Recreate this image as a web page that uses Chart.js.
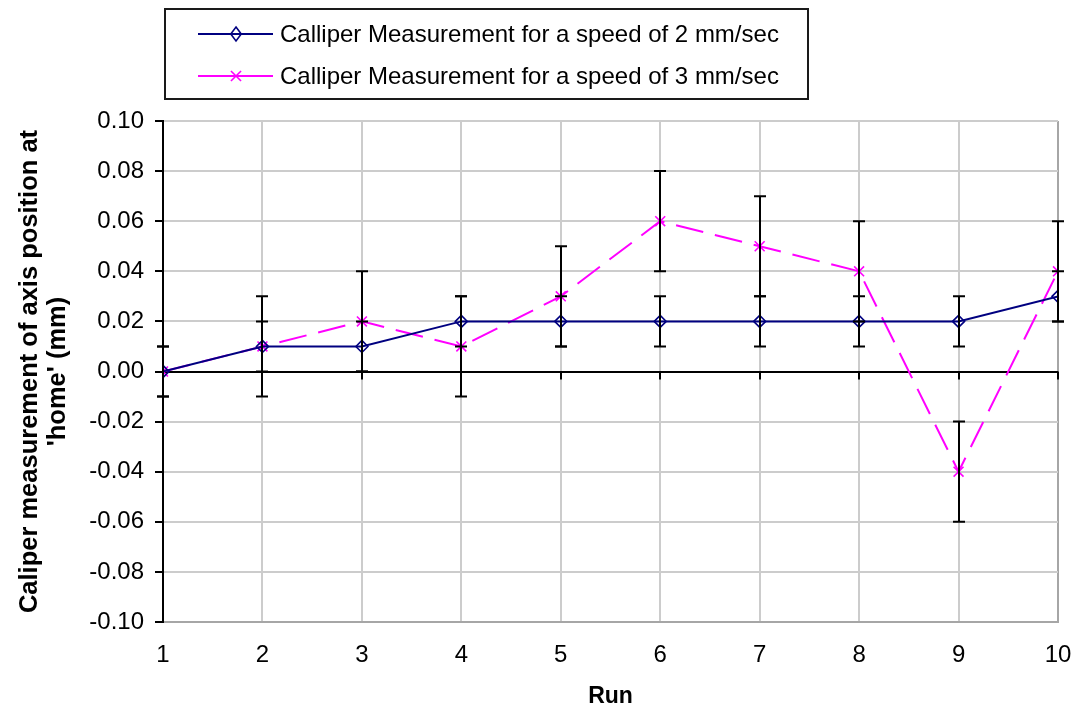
<!DOCTYPE html>
<html>
<head>
<meta charset="utf-8">
<script src="https://cdn.jsdelivr.net/npm/chart.js@4.4.1/dist/chart.umd.min.js"></script>
<style>
html,body{margin:0;padding:0;background:#ffffff;}
#wrap{width:1077px;height:713px;position:relative;}
</style>
</head>
<body>
<div id="wrap"><canvas id="c" width="1077" height="713"></canvas></div>
<script>
// ---- data ----
const runs = [1, 2, 3, 4, 5, 6, 7, 8, 9, 10];
const speed2 = [0.00, 0.01, 0.01, 0.02, 0.02, 0.02, 0.02, 0.02, 0.02, 0.03];
const speed3 = [0.00, 0.01, 0.02, 0.01, 0.03, 0.06, 0.05, 0.04, -0.04, 0.04];
const err2 = [0.01, 0.01, 0.01, 0.01, 0.01, 0.01, 0.01, 0.01, 0.01, 0.01];
const err3 = [0.01, 0.02, 0.02, 0.02, 0.02, 0.02, 0.02, 0.02, 0.02, 0.02];
const seriesLabels = ["Calliper Measurement for a speed of 2 mm/sec", "Calliper Measurement for a speed of 3 mm/sec"];
const yTitle = ["Caliper measurement of axis position at", "'home' (mm)"];
const xTitle = "Run";
const yMin = -0.10, yMax = 0.10, yStep = 0.02;

const FONT = "Arial, 'Liberation Sans', sans-serif";

// error bars drawn through the scales
const errorBars = {
  id: 'errorBars',
  afterDatasetsDraw(chart) {
    const ctx = chart.ctx, xs = chart.scales.x, ys = chart.scales.y;
    ctx.save();
    ctx.strokeStyle = '#000';
    ctx.lineWidth = 2;
    chart.data.datasets.forEach(ds => {
      const errs = ds.errors || [];
      ds.data.forEach((p, i) => {
        const e = errs[i];
        if (!e) return;
        const x = Math.round(xs.getPixelForValue(p.x));
        const yt = ys.getPixelForValue(p.y + e);
        const yb = ys.getPixelForValue(p.y - e);
        ctx.beginPath();
        ctx.moveTo(x, yt); ctx.lineTo(x, yb);
        ctx.moveTo(x - 6, yt); ctx.lineTo(x + 6, yt);
        ctx.moveTo(x - 6, yb); ctx.lineTo(x + 6, yb);
        ctx.stroke();
      });
    });
    ctx.restore();
  }
};

// small tick marks below the zero line (category axis crossing at 0)
const zeroTicks = {
  id: 'zeroTicks',
  beforeDatasetsDraw(chart) {
    const ctx = chart.ctx, xs = chart.scales.x, ys = chart.scales.y;
    const y0 = ys.getPixelForValue(0);
    ctx.save();
    ctx.strokeStyle = '#000';
    ctx.lineWidth = 2;
    ctx.beginPath();
    runs.forEach(r => {
      const x = Math.round(xs.getPixelForValue(r));
      ctx.moveTo(x, y0); ctx.lineTo(x, y0 + 8);
    });
    ctx.stroke();
    ctx.restore();
  }
};

function drawMarker(ctx, style, x, y, r, color) {
  ctx.save();
  ctx.strokeStyle = color; ctx.lineWidth = 1.6;
  ctx.beginPath();
  if (style === 'rectRot') {
    ctx.moveTo(x, y - r); ctx.lineTo(x + r * 0.75, y); ctx.lineTo(x, y + r); ctx.lineTo(x - r * 0.75, y); ctx.closePath();
  } else {
    const d = r * 0.72;
    ctx.moveTo(x - d, y - d); ctx.lineTo(x + d, y + d);
    ctx.moveTo(x + d, y - d); ctx.lineTo(x - d, y + d);
  }
  ctx.stroke();
  ctx.restore();
}

// boxed legend
const boxLegend = {
  id: 'boxLegend',
  afterDraw(chart) {
    const ctx = chart.ctx;
    ctx.save();
    ctx.strokeStyle = '#1a1a1a';
    ctx.lineWidth = 2;
    ctx.strokeRect(165, 9, 643, 90);
    const rows = [34, 76];
    chart.data.datasets.forEach((ds, i) => {
      const y = rows[i];
      ctx.strokeStyle = ds.borderColor;
      ctx.lineWidth = 2;
      ctx.beginPath(); ctx.moveTo(198, y); ctx.lineTo(273, y); ctx.stroke();
      drawMarker(ctx, ds.pointStyle, 236, y, 7, ds.borderColor);
      ctx.fillStyle = '#000';
      ctx.font = '24px ' + FONT;
      ctx.textBaseline = 'middle';
      ctx.textAlign = 'left';
      ctx.fillText(ds.label, 280, y + 1);
    });
    ctx.restore();
  }
};

const gridGray = '#cccccc';

new Chart(document.getElementById('c'), {
  type: 'line',
  data: {
    datasets: [
      {
        label: seriesLabels[0],
        data: runs.map((r, i) => ({x: r, y: speed2[i]})),
        errors: err2,
        borderColor: '#000080',
        backgroundColor: 'rgba(0,0,0,0)',
        borderWidth: 2,
        pointStyle: 'rectRot',
        pointRadius: 6,
        pointBorderWidth: 1.6,
        pointBorderColor: '#000080',
        pointBackgroundColor: 'rgba(0,0,0,0)',
        tension: 0
      },
      {
        label: seriesLabels[1],
        data: runs.map((r, i) => ({x: r, y: speed3[i]})),
        errors: err3,
        borderColor: '#ff00ff',
        backgroundColor: 'rgba(0,0,0,0)',
        borderWidth: 2,
        borderDash: [28, 12],
        pointStyle: 'crossRot',
        pointRadius: 7,
        pointBorderWidth: 1.6,
        pointBorderColor: '#ff00ff',
        tension: 0
      }
    ]
  },
  options: {
    responsive: false,
    animation: false,
    events: [],
    layout: {padding: {top: 121, right: 19, bottom: 0, left: 0}},
    plugins: {legend: {display: false}, tooltip: {enabled: false}},
    scales: {
      x: {
        type: 'linear',
        min: 1, max: 10,
        afterFit(s) { s.height = 91; s.paddingLeft = 0; s.paddingRight = 0; },
        ticks: {stepSize: 1, color: '#000', padding: 19, font: {family: FONT, size: 24}},
        grid: {
          drawTicks: false,
          lineWidth: 2,
          color: ctx => (ctx.tick && ctx.tick.value === 10) ? '#a6a6a6' : gridGray
        },
        border: {display: true, color: '#a6a6a6', width: 2},
        title: {display: true, text: xTitle, color: '#000', padding: {top: 0, bottom: 3}, font: {family: FONT, size: 23, weight: 'bold'}}
      },
      y: {
        min: yMin, max: yMax,
        afterFit(s) { s.width = 163; s.paddingTop = 0; s.paddingBottom = 0; },
        afterBuildTicks(s) {
          const t = [];
          for (let v = -5; v <= 5; v++) t.push({value: v * yStep});
          s.ticks = t;
        },
        ticks: {
          color: '#000', padding: 11,
          font: {family: FONT, size: 24},
          callback: v => (Math.abs(v) < 1e-9 ? 0 : v).toFixed(2)
        },
        grid: {
          lineWidth: 2,
          tickLength: 8,
          tickColor: '#000',
          color: ctx => (ctx.tick && Math.abs(ctx.tick.value) < 1e-9) ? '#000' : gridGray
        },
        border: {display: true, color: '#000', width: 2},
        title: {display: true, text: yTitle, color: '#000', padding: {top: 16, bottom: 0}, font: {family: FONT, size: 25.5, weight: 'bold', lineHeight: 1.1}}
      }
    }
  },
  plugins: [zeroTicks, errorBars, boxLegend]
});
</script>
</body>
</html>
